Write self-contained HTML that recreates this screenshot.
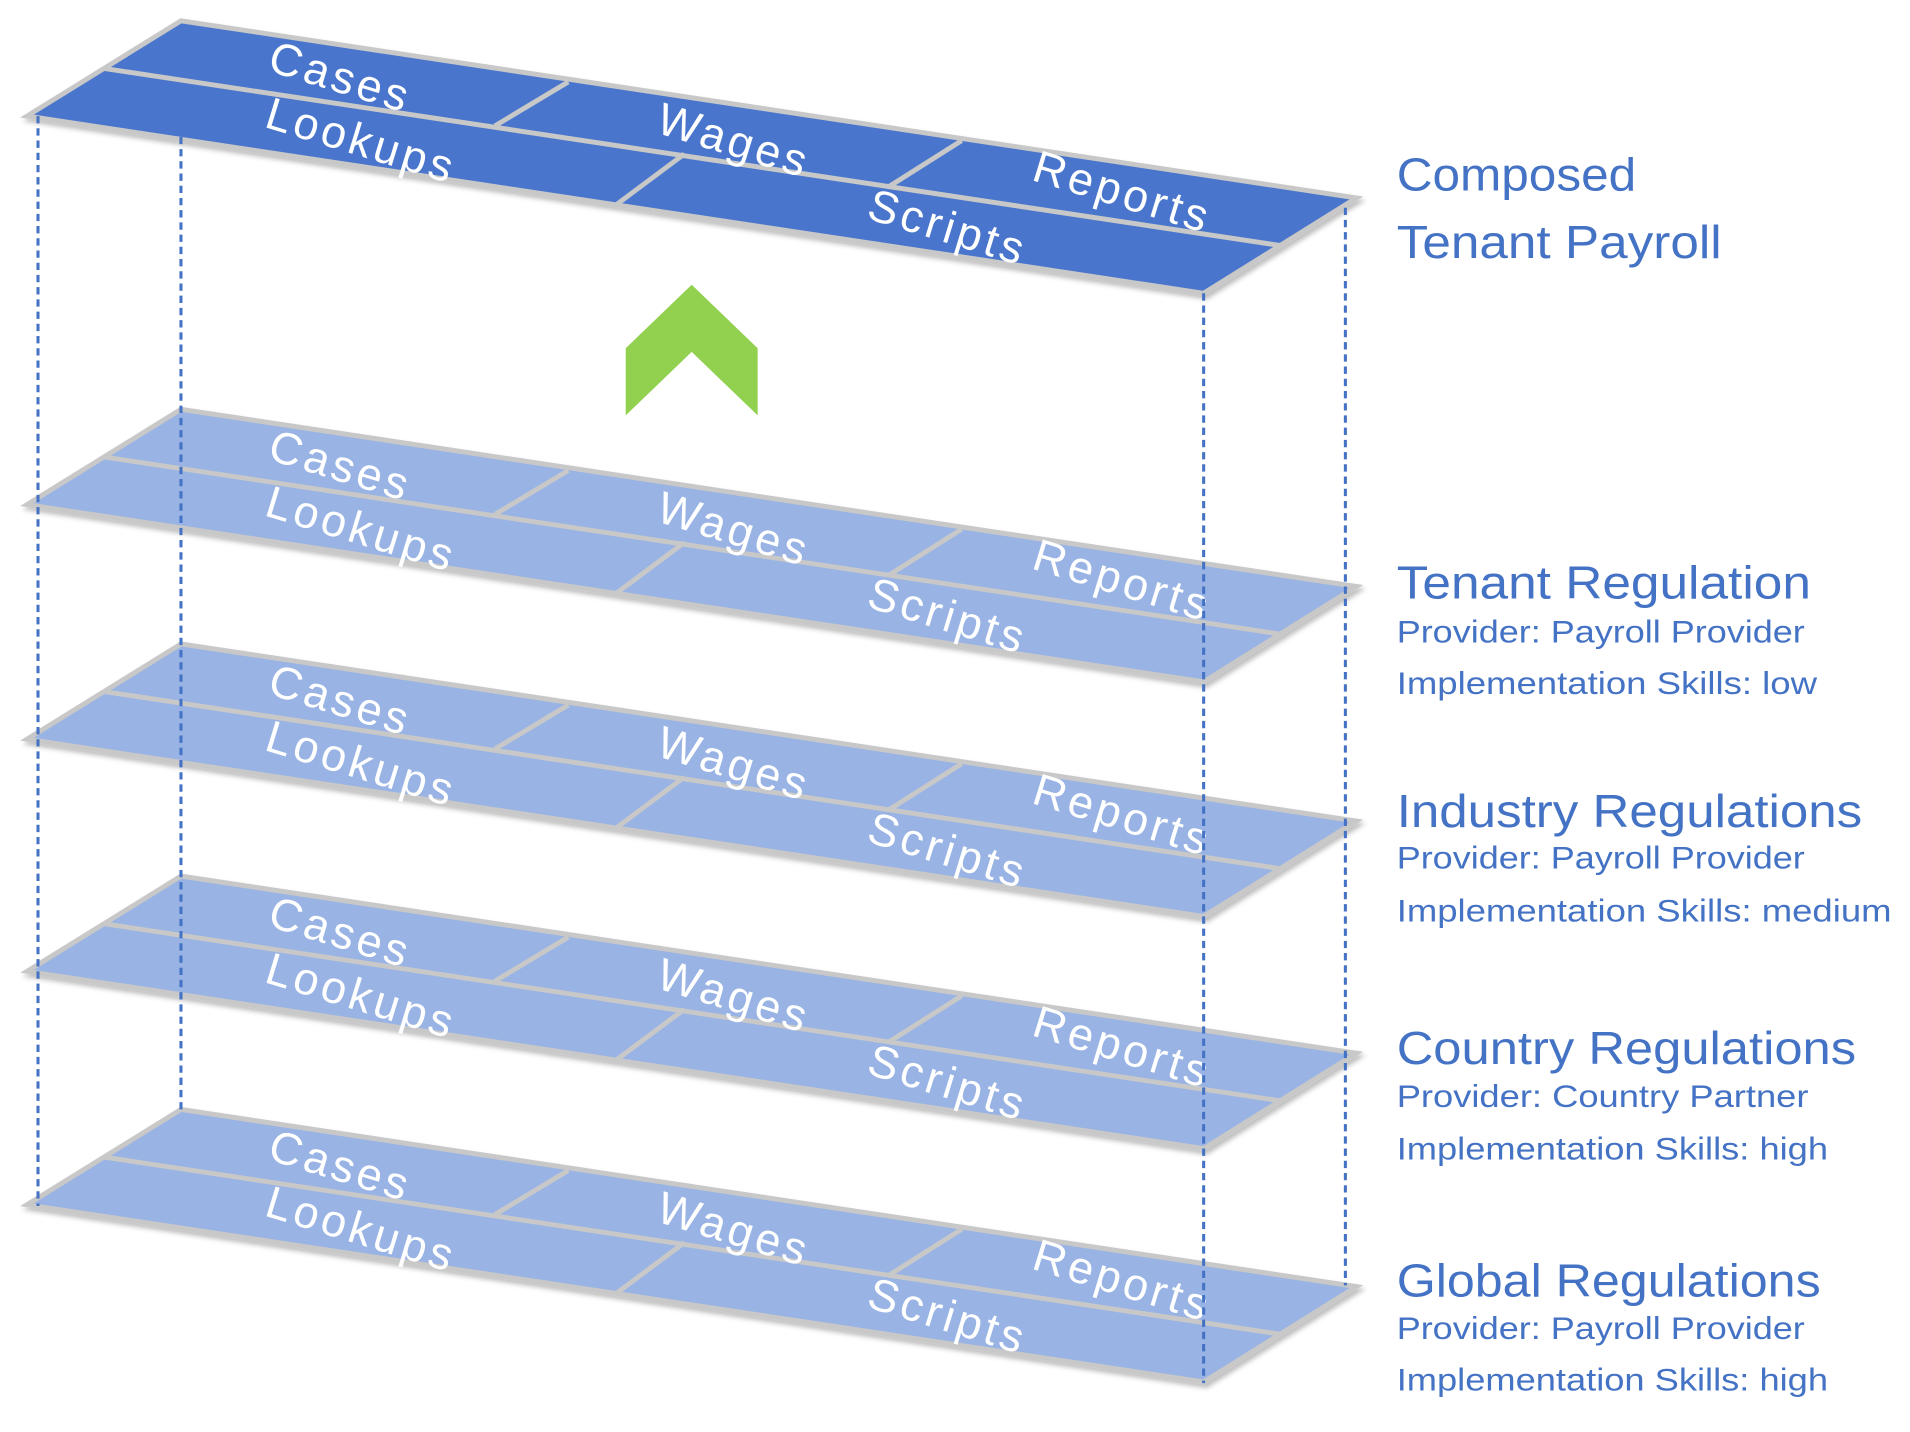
<!DOCTYPE html>
<html><head><meta charset="utf-8"><style>html,body{margin:0;padding:0;background:#fff}svg{display:block}</style></head>
<body>
<svg width="1910" height="1432" viewBox="0 0 1563 1172" xmlns="http://www.w3.org/2000/svg">
<defs>
<filter id="sh" x="-5%" y="-5%" width="110%" height="120%"><feDropShadow dx="2" dy="3" stdDeviation="2" flood-color="#000" flood-opacity="0.25"/></filter>
<g id="layer">
  <polygon points="148,17 1110,162 985,240 22,95" stroke="#c8c8c8" stroke-width="4" filter="url(#sh)"/>
  <g stroke="#c8c8c8" stroke-width="4" fill="none">
    <line x1="85" y1="56" x2="1048" y2="201"/>
    <line x1="465" y1="67" x2="405" y2="103"/>
    <line x1="787" y1="115" x2="727" y2="153"/>
    <line x1="560" y1="126" x2="505" y2="167"/>
  </g>
  <g font-family="Liberation Sans, sans-serif" font-size="37" fill="#fff" text-anchor="middle" letter-spacing="3">
    <text transform="translate(275,75) rotate(17)">Cases</text>
    <text transform="translate(597,127) rotate(17)">Wages</text>
    <text transform="translate(915,169) rotate(17)">Reports</text>
    <text transform="translate(292,127) rotate(17)">Lookups</text>
    <text transform="translate(772,198) rotate(17)">Scripts</text>
  </g>
</g>
</defs>
<g fill="#98b3e4"><use href="#layer" transform="translate(0,891)"/></g>
<g fill="#98b3e4"><use href="#layer" transform="translate(0,700)"/></g>
<g fill="#98b3e4"><use href="#layer" transform="translate(0,510)"/></g>
<g fill="#98b3e4"><use href="#layer" transform="translate(0,318)"/></g>
<g fill="#4a76cc"><use href="#layer"/></g>
<g stroke="#4472c4" stroke-width="2.5" stroke-dasharray="6 4" fill="none">
  <line x1="31" y1="95" x2="31" y2="987"/>
  <line x1="148" y1="112" x2="148" y2="910"/>
  <line x1="985" y1="240" x2="985" y2="1132"/>
  <line x1="1101" y1="170" x2="1101" y2="1052"/>
</g>
<polygon points="512,285 566,233 620,285 620,340 566,288 512,340" fill="#92d050"/>
<g font-family="Liberation Sans, sans-serif" fill="#4472c4">
  <text x="1143" y="156" font-size="38" textLength="196" lengthAdjust="spacingAndGlyphs">Composed</text>
  <text x="1143" y="211" font-size="38" textLength="266" lengthAdjust="spacingAndGlyphs">Tenant Payroll</text>
  <text x="1143" y="490" font-size="38" textLength="339" lengthAdjust="spacingAndGlyphs">Tenant Regulation</text>
  <text x="1143" y="526" font-size="26" textLength="334" lengthAdjust="spacingAndGlyphs">Provider: Payroll Provider</text>
  <text x="1143" y="568" font-size="26" textLength="344" lengthAdjust="spacingAndGlyphs">Implementation Skills: low</text>
  <text x="1143" y="677" font-size="38" textLength="381" lengthAdjust="spacingAndGlyphs">Industry Regulations</text>
  <text x="1143" y="711" font-size="26" textLength="334" lengthAdjust="spacingAndGlyphs">Provider: Payroll Provider</text>
  <text x="1143" y="754" font-size="26" textLength="405" lengthAdjust="spacingAndGlyphs">Implementation Skills: medium</text>
  <text x="1143" y="871" font-size="38" textLength="376" lengthAdjust="spacingAndGlyphs">Country Regulations</text>
  <text x="1143" y="906" font-size="26" textLength="337" lengthAdjust="spacingAndGlyphs">Provider: Country Partner</text>
  <text x="1143" y="949" font-size="26" textLength="353" lengthAdjust="spacingAndGlyphs">Implementation Skills: high</text>
  <text x="1143" y="1061" font-size="38" textLength="347" lengthAdjust="spacingAndGlyphs">Global Regulations</text>
  <text x="1143" y="1096" font-size="26" textLength="334" lengthAdjust="spacingAndGlyphs">Provider: Payroll Provider</text>
  <text x="1143" y="1138" font-size="26" textLength="353" lengthAdjust="spacingAndGlyphs">Implementation Skills: high</text>
</g>
</svg>
</body></html>
